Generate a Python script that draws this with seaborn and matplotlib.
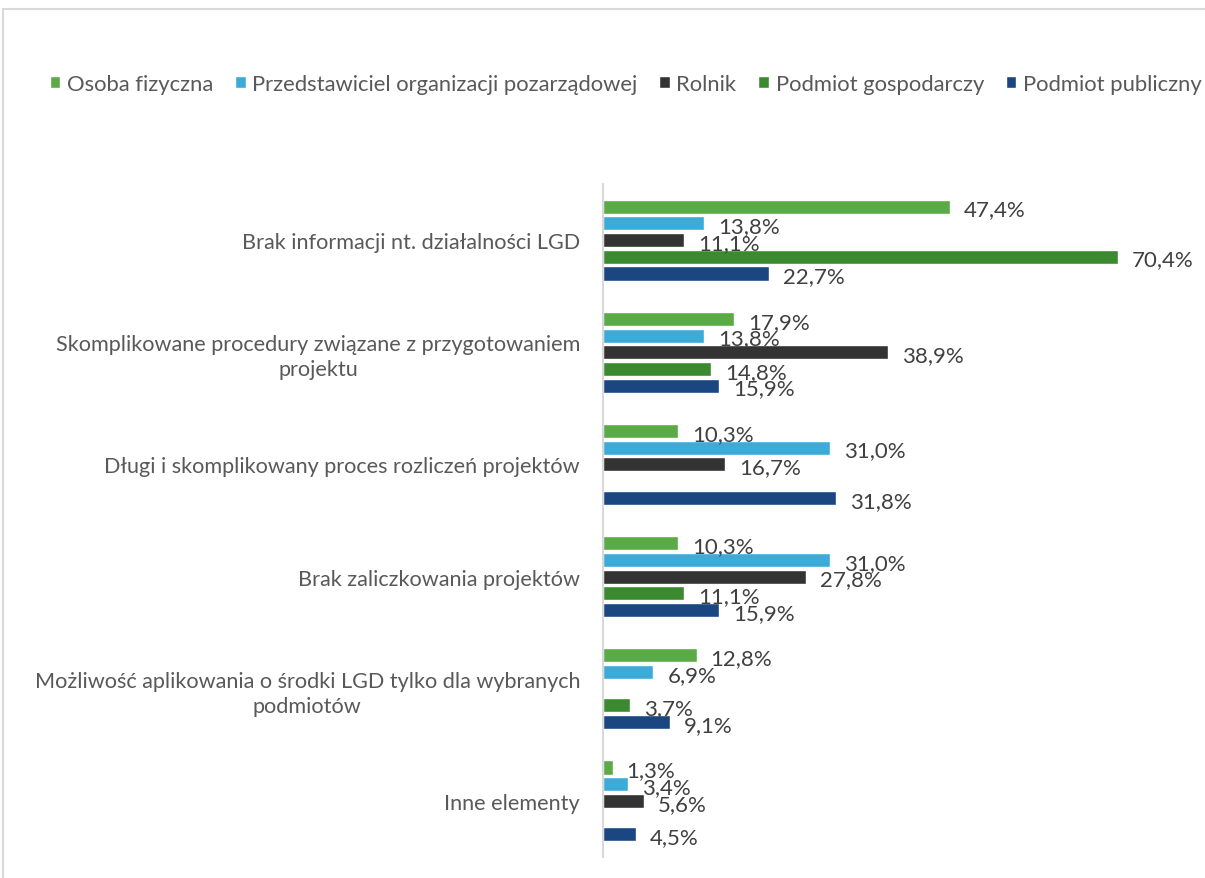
import numpy as np
import pandas as pd
import matplotlib
matplotlib.use("Agg")
import matplotlib.pyplot as plt
from matplotlib.patches import Rectangle
import seaborn as sns

categories = [
    "Brak informacji nt. działalności LGD",
    "Skomplikowane procedury związane z przygotowaniem\nprojektu",
    "Długi i skomplikowany proces rozliczeń projektów",
    "Brak zaliczkowania projektów",
    "Możliwość aplikowania o środki LGD tylko dla wybranych\npodmiotów",
    "Inne elementy",
]
series = ["Osoba fizyczna", "Przedstawiciel organizacji pozarządowej", "Rolnik",
          "Podmiot gospodarczy", "Podmiot publiczny"]
osoba_fizyczna = [47.4, 17.9, 10.3, 10.3, 12.8, 1.3]
organizacja_pozarzadowa = [13.8, 13.8, 31.0, 31.0, 6.9, 3.4]
rolnik = [11.1, 38.9, 16.7, 27.8, np.nan, 5.6]
podmiot_gospodarczy = [70.4, 14.8, np.nan, 11.1, 3.7, np.nan]
podmiot_publiczny = [22.7, 15.9, 31.8, 15.9, 9.1, 4.5]
colors = ["#5AAA46", "#3DABD8", "#333333", "#3B8A2F", "#1A4682"]

values = [osoba_fizyczna, organizacja_pozarzadowa, rolnik, podmiot_gospodarczy, podmiot_publiczny]
rows = []
for s, vals in zip(series, values):
    for c, v in zip(categories, vals):
        rows.append({"kategoria": c, "grupa": s, "wartosc": v})
df = pd.DataFrame(rows).dropna()

sns.set_theme(style="white")
plt.rcParams["font.family"] = ["Lato", "DejaVu Sans"]

W, H = 1205, 879
fig = plt.figure(figsize=(W / 100, H / 100), dpi=100)
ax = fig.add_axes([603 / W, 1 - 858 / H, 600 / W, 673 / H])

sns.barplot(data=df, x="wartosc", y="kategoria", hue="grupa", order=categories,
            hue_order=series, palette=colors, orient="h", width=0.745, gap=0.16,
            saturation=1, legend=False, ax=ax)

# value labels just right of each bar, nudged slightly downward
for cont in ax.containers:
    for patch, v in zip(cont.patches, cont.datavalues):
        if np.isnan(v):
            continue
        y = patch.get_y() + patch.get_height() / 2
        ax.annotate(f"{v:.1f}%".replace(".", ","), xy=(patch.get_width(), y),
                    xytext=(10, -2), textcoords="offset points",
                    ha="left", va="center", fontsize=16, color="#404040")

ax.set_xlim(0, 82)
ax.set_ylim(len(categories) - 0.5, -0.5)
ax.set_xlabel("")
ax.set_ylabel("")
ax.set_xticks([])
ax.tick_params(axis="y", length=0, pad=16.5, labelsize=15.6, labelcolor="#595959")
for lab in ax.get_yticklabels():
    lab.set_multialignment("center")
    lab.set_linespacing(1.3)
for side in ["top", "right", "bottom"]:
    ax.spines[side].set_visible(False)
ax.spines["left"].set_color("#D9D9D9")
ax.spines["left"].set_linewidth(1.5)

handles = [Rectangle((0, 0), 1, 1, facecolor=c) for c in colors]
fig.legend(handles, series, loc="center left", bbox_to_anchor=(30 / W, 1 - 85 / H),
           ncol=5, frameon=False, fontsize=15.8, handlelength=0.48, handleheight=0.48,
           handletextpad=0.3, columnspacing=1.0, labelcolor="#595959")

fig.patches.append(Rectangle((3 / W, -0.1), 1.2, 1 - 10 / H + 0.1, transform=fig.transFigure,
                             fill=False, edgecolor="#D9D9D9", linewidth=1.5))

fig.savefig("out.png", dpi=100)
